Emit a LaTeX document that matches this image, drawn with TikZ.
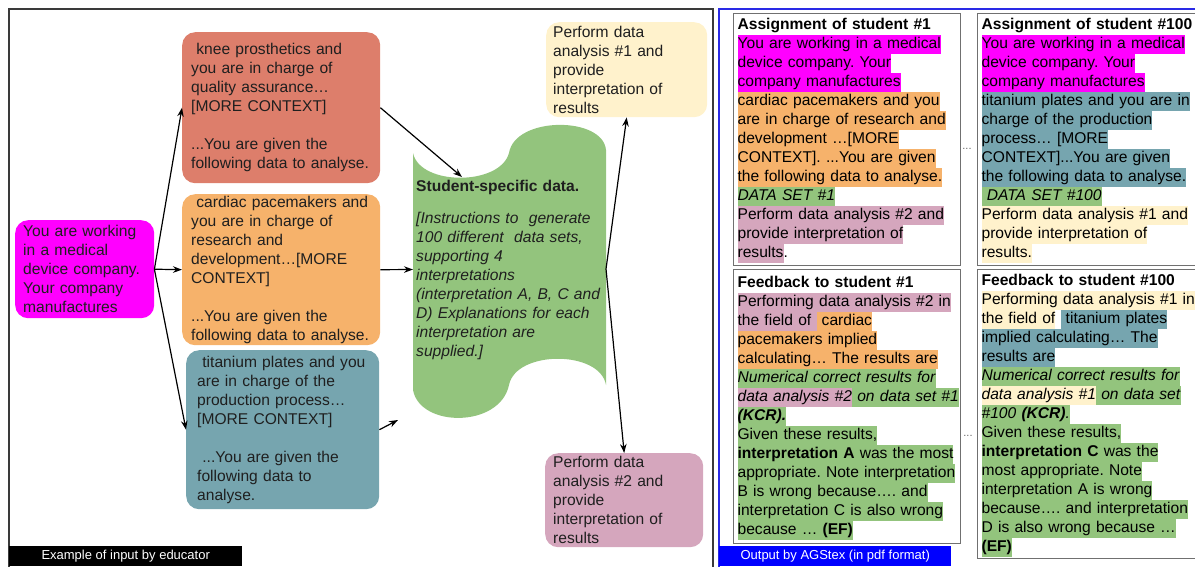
\documentclass[tikz,border=0pt]{standalone}
\usepackage{fontspec}
\setmainfont{Liberation Sans}
\usetikzlibrary{arrows.meta}
\frenchspacing

\definecolor{redberry}{HTML}{DD7E6B}
\definecolor{lightorange}{HTML}{F6B26B}
\definecolor{lightcyan}{HTML}{76A5AF}
\definecolor{lightgreen}{HTML}{93C47D}
\definecolor{lightyellow}{HTML}{FFF2CC}
\definecolor{lightpink}{HTML}{D5A6BD}
\definecolor{brightmagenta}{HTML}{FF00FF}
\definecolor{framegray}{HTML}{3A3A3A}
\definecolor{sheetgray}{HTML}{707070}
\definecolor{frameblue}{HTML}{2A2AE6}
\definecolor{tagblue}{HTML}{0000FF}

\newcommand{\hlstrut}{\rule[-5.5pt]{0pt}{19pt}}
\newcommand{\hlbox}[2]{{\setlength{\fboxsep}{0pt}\colorbox{#1}{\hlstrut #2}}}

\tikzset{
    box/.style={anchor=north west, rounded corners=13pt, align=left,
        inner ysep=0pt, text=black!88, font=\fontsize{15.6}{19}\selectfont},
    sheet/.style={anchor=north west, draw=sheetgray, line width=1.2pt,
        align=left, inner xsep=4pt, inner ysep=2pt,
        font=\fontsize{15.6}{19}\selectfont},
    link/.style={line width=1.2pt, -{Stealth[length=9pt,width=6.5pt]}},
    tag/.style={anchor=north west, text=white, inner sep=0pt,
        minimum height=20pt, font=\fontsize{13}{15}\selectfont}
}

\begin{document}
\begin{tikzpicture}[x=1pt,y=-1pt]
\useasboundingbox (0,0) rectangle (1195,566);
\clip (0,0) rectangle (1195,566);

%okviri
    %ulaz (lijevo)
    \draw[framegray, line width=1.5pt] (9,580) -- (9,9) -- (713,9) -- (713,580);
    \node[tag, fill=black, minimum width=233pt] (intag) at (9,546)
        {Example of input by educator};

    %izlaz (desno)
    \draw[frameblue, line width=1.5pt] (719,580) -- (719,9) -- (1210,9);
    \node[tag, fill=tagblue, minimum width=232pt] (outtag) at (719,546)
        {Output by AGStex (in pdf format)};

%kontekst
    \node[box, fill=brightmagenta, text width=123pt, inner xsep=8pt,
        minimum width=139pt, minimum height=98pt] (mag) at (15,220)
        {You are working\\ in a medical\\ device company.\\ Your company\\ manufactures};

    \node[box, fill=redberry, text width=180pt, inner xsep=9pt,
        minimum width=198pt, minimum height=151pt] (knee) at (182,32)
        {\ knee prosthetics and\\ you are in charge of\\ quality assurance…\\{}[MORE CONTEXT]\\[19pt]
         ...You are given the\\ following data to analyse.};

    \node[box, fill=lightorange, text width=180pt, inner xsep=9pt,
        minimum width=198pt, minimum height=151pt] (cardiac) at (182,194)
        {\ cardiac pacemakers and\\ you are in charge of\\ research and\\ development…[MORE\\ CONTEXT]\\[19pt]
         ...You are given the\\ following data to analyse.};

    \node[box, fill=lightcyan, text width=171pt, inner xsep=11pt,
        minimum width=193pt, minimum height=159pt] (titan) at (186,350)
        {\ titanium plates and you\\ are in charge of the\\ production process…\\{}[MORE CONTEXT]\\[19pt]
         \ ...You are given the\\ following data to\\ analyse.};

%podaci
    \fill[lightgreen] (413,153) .. controls (420,186) and (500,186) .. (509,153)
        .. controls (515,116) and (603,116) .. (606,150) -- (606,385)
        .. controls (600,350) and (516,350) .. (509,385)
        .. controls (500,428) and (420,428) .. (413,390) -- cycle;
    \coordinate (gtop) at (462,177);
    \coordinate (gwest) at (413,269.5);
    \coordinate (geast) at (606,269);
    \coordinate (tipend) at (398,420);

    \node[anchor=north west, align=left, text width=187pt, inner xsep=3pt,
        inner ysep=0pt, text=black!88, font=\fontsize{15.6}{19}\selectfont] (data) at (413,180)
        {\textbf{Student-specific data.}\\[13pt]
         \itshape [Instructions to\ \ generate\\ 100 different\ \ data sets,\\ supporting 4\\
         interpretations\\ (interpretation A, B, C and\\ D) Explanations for each\\
         interpretation are\\ supplied.]};

%analize
    \node[box, fill=lightyellow, text width=147pt, inner xsep=7pt,
        minimum width=161pt, minimum height=95pt] (task1) at (546,22)
        {Perform data\\ analysis \#1 and\\ provide\\ interpretation of\\ results};

    \node[box, fill=lightpink, text width=142pt, inner xsep=8pt,
        minimum width=158pt, minimum height=94pt] (task2) at (545,453)
        {Perform data\\ analysis \#2 and\\ provide\\ interpretation of\\ results};

%strelice
    \draw[link] (mag.east) -- (knee.west);
    \draw[link] (mag.east) -- (cardiac.west);
    \draw[link] (mag.east) -- (titan.west);
    \draw[link] (knee.east) -- (gtop);
    \draw[link] (cardiac.east) -- (gwest);
    \draw[link] (titan.east) -- (tipend);
    \draw[link] (geast) -- (task1.south);
    \draw[link] (geast) -- (task2.north);

%zadaci studenata
    %student 1
    \node[sheet, text width=219pt, minimum width=227pt, minimum height=252pt] (assign1) at (733,13)
        {\textbf{Assignment of student \#1}\hlstrut\\
         \hlbox{brightmagenta}{You are working in a medical}\\
         \hlbox{brightmagenta}{device company. Your}\\
         \hlbox{brightmagenta}{company manufactures}\\
         \hlbox{lightorange}{cardiac pacemakers and you}\\
         \hlbox{lightorange}{are in charge of research and}\\
         \hlbox{lightorange}{development …[MORE}\\
         \hlbox{lightorange}{CONTEXT]. ...You are given}\\
         \hlbox{lightorange}{the following data to analyse.}\\
         \hlbox{lightgreen}{\textit{DATA SET \#1}}\\
         \hlbox{lightpink}{Perform data analysis \#2 and}\\
         \hlbox{lightpink}{provide interpretation of}\\
         \hlbox{lightpink}{results}.\hlstrut};

    \node[sheet, text width=219pt, minimum width=227pt, minimum height=274pt] (feed1) at (733,269)
        {\textbf{Feedback to student \#1}\hlstrut\\
         \hlbox{lightpink}{Performing data analysis \#2 in}\\
         \hlbox{lightpink}{the field of }\hlbox{lightorange}{ cardiac}\\
         \hlbox{lightorange}{pacemakers implied}\\
         \hlbox{lightorange}{calculating… The results are}\\
         \hlbox{lightgreen}{\textit{Numerical correct results for}}\\
         \hlbox{lightpink}{\textit{data analysis \#2}}\hlbox{lightgreen}{\textit{ on data set \#1}}\\
         \hlbox{lightgreen}{\textbf{\textit{(KCR).}}}\\
         \hlbox{lightgreen}{Given these results,}\\
         \hlbox{lightgreen}{\textbf{interpretation A} was the most}\\
         \hlbox{lightgreen}{appropriate. Note interpretation}\\
         \hlbox{lightgreen}{B is wrong because…. and}\\
         \hlbox{lightgreen}{interpretation C is also wrong}\\
         \hlbox{lightgreen}{because … \textbf{(EF)}}};

    %student 100
    \node[sheet, text width=212pt, minimum width=220pt, minimum height=252pt] (assign100) at (977,13)
        {\textbf{Assignment of student \#100}\hlstrut\\
         \hlbox{brightmagenta}{You are working in a medical}\\
         \hlbox{brightmagenta}{device company. Your}\\
         \hlbox{brightmagenta}{company manufactures}\\
         \hlbox{lightcyan}{titanium plates and you are in}\\
         \hlbox{lightcyan}{charge of the production}\\
         \hlbox{lightcyan}{process… [MORE}\\
         \hlbox{lightcyan}{CONTEXT]...You are given}\\
         \hlbox{lightcyan}{the following data to analyse.}\\
         \hlbox{lightgreen}{\textit{ DATA SET \#100}}\\
         \hlbox{lightyellow}{Perform data analysis \#1 and}\\
         \hlbox{lightyellow}{provide interpretation of}\\
         \hlbox{lightyellow}{results.}};

    \node[sheet, text width=212pt, minimum width=220pt, minimum height=289pt] (feed100) at (977,269)
        {\textbf{Feedback to student \#100}\hlstrut\\
         \hlbox{lightyellow}{Performing data analysis \#1 in}\\
         \hlbox{lightyellow}{the field of}~\hlbox{lightcyan}{ titanium plates}\\
         \hlbox{lightcyan}{implied calculating… The}\\
         \hlbox{lightcyan}{results are}\\
         \hlbox{lightgreen}{\textit{Numerical correct results for}}\\
         \hlbox{lightyellow}{\textit{data analysis \#1}}\hlbox{lightgreen}{\textit{ on data set}}\\
         \hlbox{lightgreen}{\textit{\#100 \textbf{(KCR)}.}}\\
         \hlbox{lightgreen}{Given these results,}\\
         \hlbox{lightgreen}{\textbf{interpretation C} was the}\\
         \hlbox{lightgreen}{most appropriate. Note}\\
         \hlbox{lightgreen}{interpretation A is wrong}\\
         \hlbox{lightgreen}{because…. and interpretation}\\
         \hlbox{lightgreen}{D is also wrong because …}\\
         \hlbox{lightgreen}{\textbf{(EF)}}};

    %izostavljeni studenti
    \node[text=black!60, inner sep=0pt, font=\fontsize{11}{11}\selectfont] (gapA) at (967,149) {...};
    \node[text=black!60, inner sep=0pt, font=\fontsize{11}{11}\selectfont] (gapB) at (968,436) {...};
\end{tikzpicture}
\end{document}
